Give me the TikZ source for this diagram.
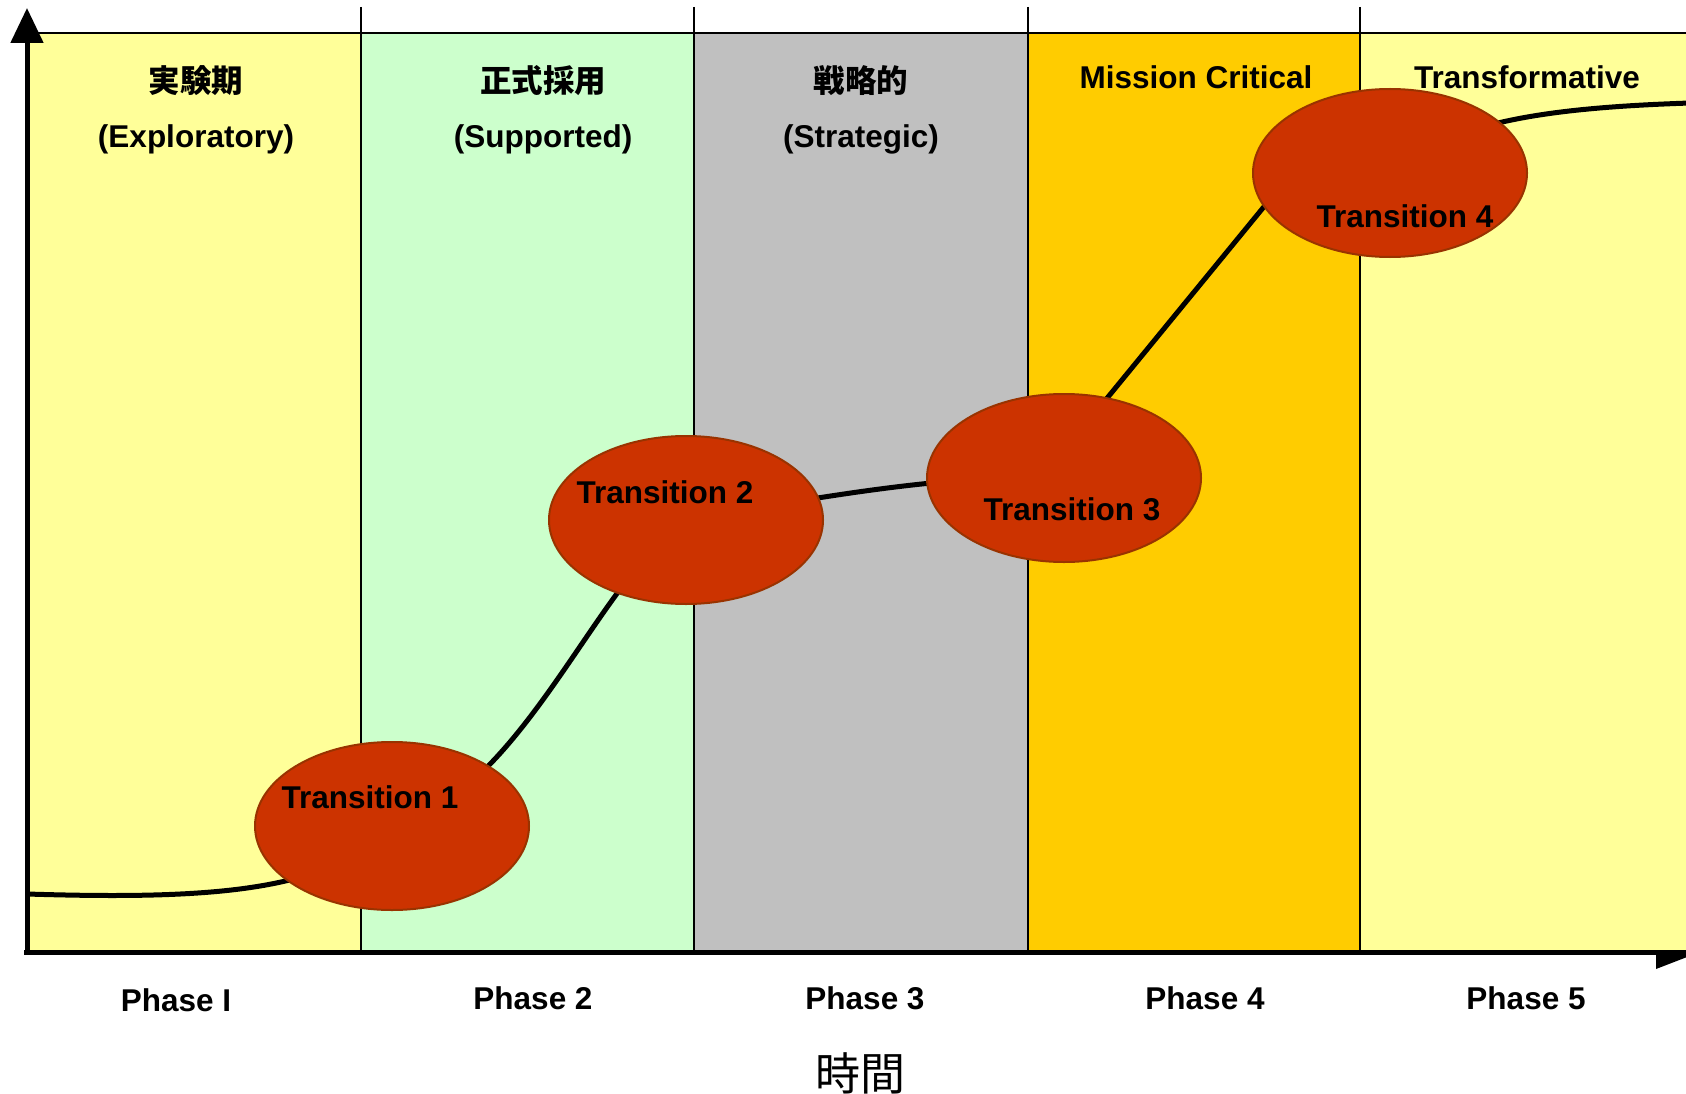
\documentclass[tikz,border=0pt]{standalone}
\usepackage{fontspec}
\setmainfont{Liberation Sans}
\newfontfamily\cjk{Noto Sans CJK JP}
\usepackage{tikz}
\usetikzlibrary{calc}
\usetikzlibrary{arrows.meta}
\usetikzlibrary{shapes.geometric}
\usepackage{xcolor}

\definecolor{explo}{HTML}{FFFF99}
\definecolor{suppo}{HTML}{CCFFCC}
\definecolor{strat}{HTML}{C0C0C0}
\definecolor{missi}{HTML}{FFCC00}
\definecolor{trred}{HTML}{CC3300}
\definecolor{trrim}{HTML}{993300}

\tikzset{
  trans/.style={ellipse, draw=trrim, line width=2pt, fill=trred, minimum width=274pt, minimum height=168pt, inner sep=0pt},
  lbl/.style={font=\fontsize{31.5}{38}\selectfont\bfseries, inner sep=0pt, anchor=base},
  trend/.style={line width=5pt},
  colline/.style={line width=2.5pt}
}

\begin{document}
\begin{tikzpicture}[x=1pt,y=-1pt]
\useasboundingbox (0,0) rectangle (1686,1094);

\fill[explo] (27,33) rectangle (361,952);
\fill[suppo] (361,33) rectangle (694,952);
\fill[strat] (694,33) rectangle (1028,952);
\fill[missi] (1028,33) rectangle (1360,952);
\fill[explo] (1360,33) rectangle (1686,952);

\draw[line width=2pt] (27,33) -- (1686,33);
\draw[colline] (361,7) -- (361,952);
\draw[colline] (694,7) -- (694,952);
\draw[colline] (1028,7) -- (1028,952);
\draw[colline] (1360,7) -- (1360,952);

\draw[line width=5pt, -{Triangle[length=35pt,width=32pt]}] (27,955) -- (27,8);
\draw[line width=5pt] (24,952) -- (1686,952);
\fill (1656,952) -- (1656,969) -- (1700,952) -- cycle;

\coordinate (start) at (27,894);
\coordinate (c1) at (392,826);
\coordinate (c2) at (686,520);
\coordinate (c3) at (1064,478);
\coordinate (k3) at (1090,419);
\coordinate (k4) at (1285,181);
\coordinate (c4) at (1390,173);
\coordinate (finish) at (1690,103);

\draw[trend] (start) .. controls +(193,6) and +(-62,64) .. (c1);
\draw[trend] (c1) .. controls +(130,-30) and +(-90,60) .. (c2);
\draw[trend] (c2) .. controls +(120,-20) and +(-120,-5) .. (c3);
\draw[trend] (c3) -- (k3) -- (k4) -- (c4);
\draw[trend] (c4) .. controls +(60,-50) and +(-150,5) .. (finish);

\node[trans] (t1) at (c1) {};
\node[trans] (t2) at (c2) {};
\node[trans] (t3) at (c3) {};
\node[trans] (t4) at (c4) {};

\node[lbl] (l1) at ($(t1)+(-22,-18)$) {Transition 1};
\node[lbl] (l2) at ($(t2)+(-21,-17)$) {Transition 2};
\node[lbl] (l3) at ($(t3)+(8,42)$) {Transition 3};
\node[lbl] (l4) at ($(t4)+(15,55)$) {Transition 4};

\node[lbl] (h1) at (196,93) {\cjk 実験期};
\node[lbl] (e1) at (196,148) {(Exploratory)};
\node[lbl] (h2) at (543,93) {\cjk 正式採用};
\node[lbl] (e2) at (543,148) {(Supported)};
\node[lbl] (h3) at (861,93) {\cjk 戦略的};
\node[lbl] (e3) at (861,148) {(Strategic)};
\node[lbl] (h4) at (1196,89) {Mission Critical};
\node[lbl] (h5) at (1527,89) {Transformative};

\node[lbl] (p1) at (176,1011) {Phase I};
\node[lbl] (p2) at (533,1009) {Phase 2};
\node[lbl] (p3) at (865,1009) {Phase 3};
\node[lbl] (p4) at (1205,1009) {Phase 4};
\node[lbl] (p5) at (1526,1009) {Phase 5};

\node[font=\cjk\fontsize{45}{50}\selectfont, inner sep=0pt, anchor=base] (axis) at (860,1090) {時間};
\end{tikzpicture}
\end{document}
